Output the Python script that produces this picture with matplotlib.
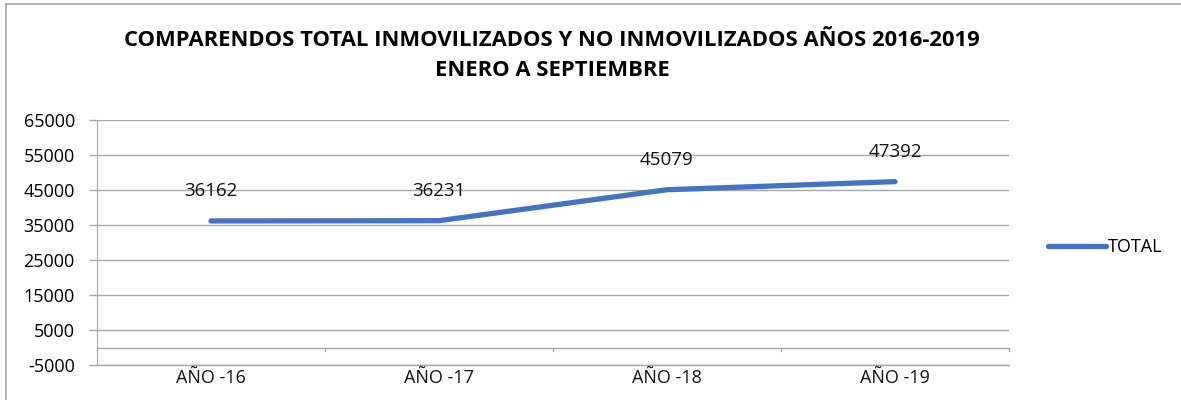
import matplotlib.pyplot as plt
from matplotlib.lines import Line2D

categories = ["AÑO -16", "AÑO -17", "AÑO -18", "AÑO -19"]
total = [36162, 36231, 45079, 47392]
yticks = [-5000, 5000, 15000, 25000, 35000, 45000, 55000, 65000]

plt.rcParams['font.family'] = ['Open Sans', 'DejaVu Sans']
blue = "#4472C4"
grid = "#A6A6A6"

fig = plt.figure(figsize=(11.81, 4.0), dpi=100)
ax = fig.add_axes([97/1181, 1-365/400, (1009-97)/1181, (365-120)/400])

x = list(range(len(categories)))
ax.plot(x, total, color=blue, lw=3.8, solid_capstyle='round', label="TOTAL")
for xi, v in zip(x, total):
    ax.annotate(str(v), (xi, v), xytext=(0, 15), textcoords='offset points',
                ha='center', va='bottom', fontsize=13.5, color='#111111')

ax.set_xlim(-0.5, len(categories) - 0.5)
ax.set_ylim(-5000, 65000)
ax.set_yticks(yticks)
ax.set_yticklabels([str(t) for t in yticks], fontsize=13)
ax.yaxis.grid(True, color=grid, lw=1.0)
ax.tick_params(axis='y', length=6, color=grid, width=1.0, pad=10)
ax.set_axisbelow(True)
ax.axhline(-5000, color=grid, lw=1.0, clip_on=False)

# category labels below the plot; tick marks on the zero line
ax.set_xticks([])
for xi, c in zip(x, categories):
    ax.text(xi, -6100, c, ha='center', va='top', fontsize=13, color='#111111')
ax.axhline(0, color=grid, lw=1.0)
for b in [i - 0.5 for i in range(len(categories) + 1)]:
    ax.plot([b, b], [0, -1000], color=grid, lw=1.0, clip_on=False)

for s in ['top', 'right', 'bottom']:
    ax.spines[s].set_visible(False)
ax.spines['left'].set_color(grid)

fig.text(552/1181, 1-41/400, "COMPARENDOS TOTAL INMOVILIZADOS Y NO INMOVILIZADOS AÑOS 2016-2019",
         ha='center', va='center', fontsize=15.8, fontweight='bold')
fig.text(552/1181, 1-71/400, "ENERO A SEPTIEMBRE",
         ha='center', va='center', fontsize=15.8, fontweight='bold')

ax.legend(loc='center left', bbox_to_anchor=(1032/1181, 1-247/400),
          bbox_transform=fig.transFigure, frameon=False, fontsize=13,
          handlelength=3.2, handletextpad=0.1)

# outer chart border
fig.add_artist(Line2D([6/1181, 1], [1-4/400, 1-4/400], transform=fig.transFigure, color=grid, lw=1.2))
fig.add_artist(Line2D([6/1181, 6/1181], [0, 1-4/400], transform=fig.transFigure, color=grid, lw=1.2))

fig.savefig("out.png", dpi=100)
